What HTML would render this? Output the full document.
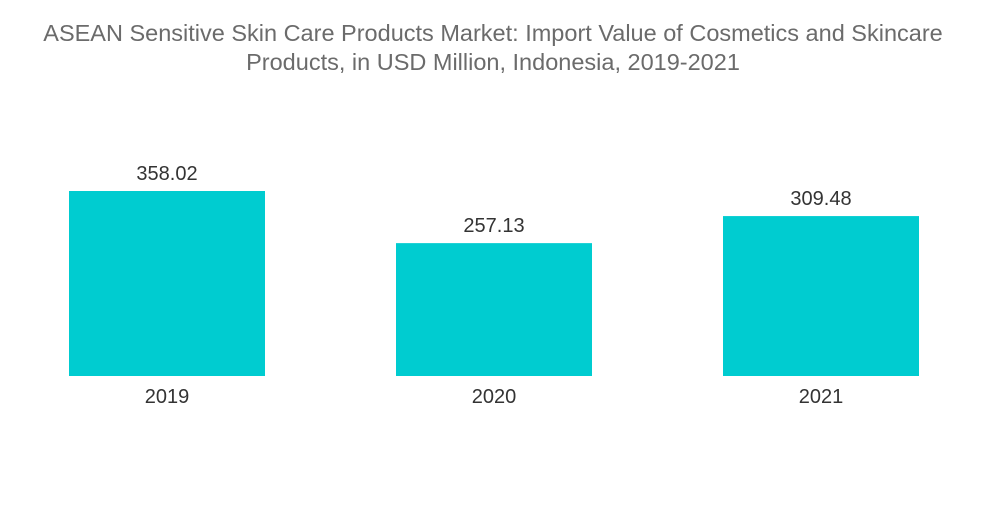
<!DOCTYPE html>
<html><head><meta charset="utf-8"><style>
body{margin:0;background:#fff;width:1000px;height:504px;overflow:hidden;font-family:"Liberation Sans",sans-serif}
</style></head><body>
<svg width="1000" height="504">
<text x="493" y="41" text-anchor="middle" font-size="23.5" fill="#6b6b6b">ASEAN Sensitive Skin Care Products Market: Import Value of Cosmetics and Skincare</text>
<text x="493" y="70" text-anchor="middle" font-size="23.5" fill="#6b6b6b">Products, in USD Million, Indonesia, 2019-2021</text>
<g id="bars"></g>
</svg>
<script>
const categories=["2019","2020","2021"];
const values=[358.02,257.13,309.48];
const labels=["358.02","257.13","309.48"];
const baseY=376, scale=185/358.02, barW=196, x0=69, step=327;
const y=v=>baseY-v*scale;
const g=document.getElementById('bars');
const ns="http://www.w3.org/2000/svg";
categories.forEach((c,i)=>{
 const x=x0+i*step;
 const r=document.createElementNS(ns,'rect');
 
 
 r.setAttribute('x',x);r.setAttribute('y',y(values[i]));
 r.setAttribute('width',barW);r.setAttribute('height',baseY-y(values[i]));
 r.setAttribute('fill','#00ccd0');g.appendChild(r);
 const t=document.createElementNS(ns,'text');
 
 
 t.setAttribute('x',x+barW/2);t.setAttribute('y',y(values[i])-11);
 t.setAttribute('text-anchor','middle');t.setAttribute('font-size','20');t.setAttribute('fill','#333');
 t.textContent=labels[i];g.appendChild(t);
 const a=document.createElementNS(ns,'text');
 
 
 a.setAttribute('x',x+barW/2);a.setAttribute('y',403);
 a.setAttribute('text-anchor','middle');a.setAttribute('font-size','20');a.setAttribute('fill','#333');
 a.textContent=c;g.appendChild(a);
});
</script>
</body></html>
